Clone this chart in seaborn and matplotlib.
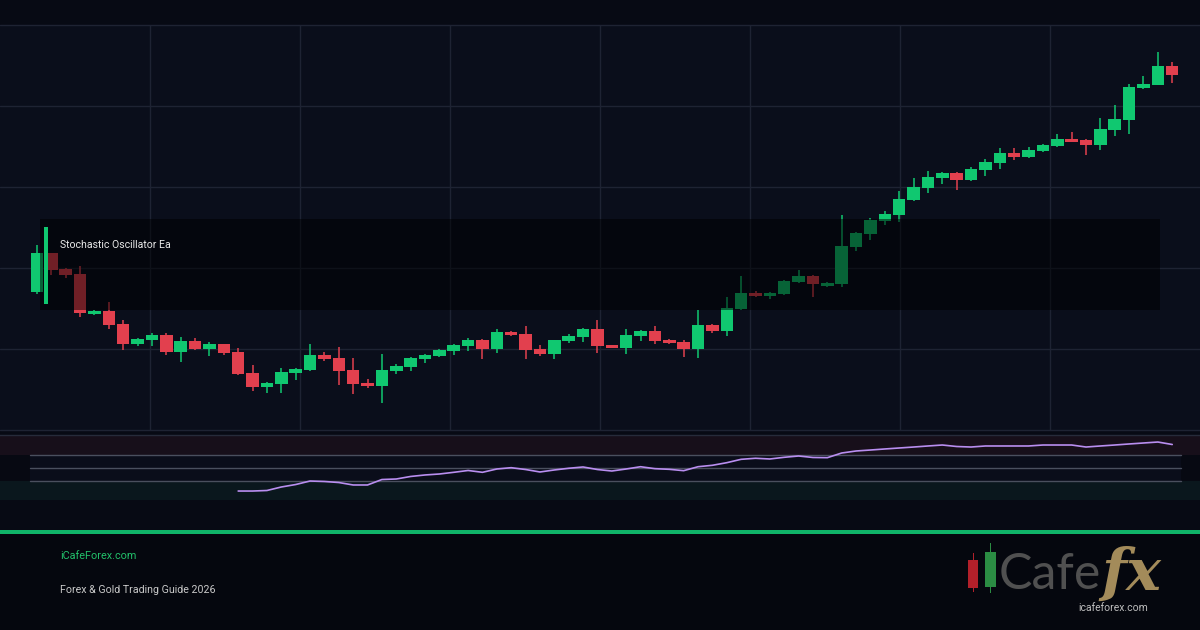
import numpy as np
import pandas as pd
import seaborn as sns
import matplotlib
matplotlib.use("Agg")
import matplotlib.pyplot as plt
from matplotlib.patches import Rectangle
import matplotlib.font_manager as fm

# ---------------- data ----------------
opens = [2138, 2177, 2161, 2156, 2116, 2119, 2106, 2086, 2090, 2095,
         2078, 2089, 2081, 2086, 2078, 2057, 2043, 2046, 2057, 2060,
         2075, 2072, 2060, 2047, 2044, 2059, 2063, 2071, 2074, 2079,
         2084, 2090, 2081, 2098, 2096, 2081, 2076, 2089, 2093, 2101,
         2085, 2082, 2094, 2099, 2090, 2088, 2081, 2105, 2099, 2121,
         2137, 2134, 2136, 2148, 2154, 2144, 2146, 2183, 2196, 2209,
         2215, 2230, 2242, 2252, 2257, 2250, 2260, 2267, 2277, 2273,
         2279, 2284, 2291, 2290, 2285, 2300, 2310, 2342, 2345, 2364]
closes = [2177, 2160, 2155, 2117, 2119, 2105, 2086, 2091, 2095, 2078,
          2089, 2081, 2086, 2077, 2056, 2043, 2047, 2058, 2061, 2075,
          2071, 2059, 2046, 2044, 2060, 2064, 2072, 2075, 2080, 2085,
          2090, 2081, 2098, 2095, 2080, 2076, 2090, 2094, 2101, 2084,
          2082, 2095, 2099, 2089, 2087, 2081, 2105, 2099, 2122, 2137,
          2134, 2137, 2149, 2154, 2146, 2147, 2184, 2197, 2210, 2216,
          2231, 2243, 2253, 2257, 2250, 2261, 2268, 2277, 2273, 2280,
          2285, 2291, 2288, 2285, 2301, 2311, 2343, 2346, 2364, 2355]
highs = [2185, 2177, 2162, 2164, 2120, 2128, 2110, 2092, 2097, 2097,
         2093, 2092, 2088, 2086, 2082, 2065, 2048, 2062, 2062, 2086,
         2078, 2083, 2072, 2051, 2076, 2066, 2073, 2076, 2081, 2086,
         2092, 2091, 2101, 2099, 2104, 2085, 2090, 2096, 2102, 2110,
         2085, 2101, 2100, 2104, 2091, 2090, 2120, 2106, 2133, 2154,
         2139, 2138, 2150, 2160, 2155, 2148, 2215, 2198, 2212, 2219,
         2239, 2252, 2259, 2258, 2258, 2263, 2271, 2282, 2282, 2283,
         2286, 2296, 2298, 2291, 2312, 2325, 2346, 2354, 2378, 2368]
lows = [2136, 2155, 2152, 2113, 2115, 2101, 2080, 2084, 2084, 2075,
        2068, 2080, 2074, 2075, 2055, 2039, 2037, 2037, 2050, 2059,
        2069, 2045, 2036, 2042, 2027, 2056, 2059, 2067, 2073, 2075,
        2079, 2071, 2077, 2094, 2071, 2074, 2071, 2087, 2088, 2077,
        2082, 2076, 2089, 2086, 2086, 2073, 2072, 2097, 2094, 2120,
        2133, 2131, 2135, 2147, 2133, 2143, 2143, 2179, 2190, 2205,
        2208, 2229, 2237, 2246, 2240, 2249, 2254, 2261, 2270, 2272,
        2278, 2283, 2288, 2275, 2280, 2294, 2296, 2341, 2345, 2347]
# oscillator starts at the 15th candle (period 14)
osc_start = 14
osc_values = [13.8, 13.8, 14.6, 20.0, 23.8, 29.2, 28.5, 26.9, 23.1, 23.1,
              31.5, 32.3, 36.2, 38.5, 40.0, 42.6, 45.4, 42.6, 47.7, 49.7,
              46.9, 43.1, 46.2, 48.8, 50.8, 46.9, 44.6, 47.7, 51.2, 48.2,
              47.2, 45.1, 51.2, 53.4, 57.4, 62.6, 64.2, 63.1, 65.7, 67.7,
              65.4, 65.1, 72.3, 75.4, 76.9, 78.5, 80.0, 81.5, 83.1, 84.6,
              82.3, 81.5, 83.1, 83.1, 83.1, 83.1, 84.6, 84.6, 84.6, 81.5,
              83.1, 84.6, 86.2, 87.7, 89.2, 85.4]
osc_levels = [70, 50, 30]
title_text = "Stochastic Oscillator Ea"
site_text = "iCafeForex.com"
guide_text = "Forex & Gold Trading Guide 2026"

# ---------------- style ----------------
sns.set_theme(style="dark")
avail = {f.name for f in fm.fontManager.ttflist}
narrow = "Liberation Sans Narrow" if "Liberation Sans Narrow" in avail else "Roboto"
plt.rcParams["font.family"] = ["Roboto", "DejaVu Sans"]

W, H = 1200, 630
BG_TOP = "#070a14"
CHART_BG = "#0a0e1b"
GRID = "#1e2333"
UP = "#10c870"
DOWN = "#e2404e"

df = pd.DataFrame({"open": opens, "close": closes, "high": highs, "low": lows})
df["idx"] = np.arange(len(df))
df["up"] = df["close"] >= df["open"]
osc = pd.DataFrame({"idx": np.arange(osc_start, osc_start + len(osc_values)),
                    "k": osc_values})

fig = plt.figure(figsize=(W / 100, H / 100), dpi=100, facecolor=BG_TOP)


def frect(x0, y0, x1, y1, color, z, alpha=1.0):
    fig.add_artist(Rectangle((x0 / W, 1 - y1 / H), (x1 - x0) / W, (y1 - y0) / H,
                             transform=fig.transFigure, facecolor=color,
                             edgecolor="none", zorder=z, alpha=alpha))


# candle spacing in pixels -> x limits so candles sit where they do in the picture
x0_px, step_px = 37.0, 14.37
xlim = (-x0_px / step_px, (W - x0_px) / step_px)

# ---------------- main price axes ----------------
ax = fig.add_axes([0, (H - 430) / H, 1, 405 / H])
ax.set_facecolor(CHART_BG)
ylim = (2000, 2405)
ax.set_xlim(*xlim)
ax.set_ylim(*ylim)
for s in ax.spines.values():
    s.set_visible(False)
ax.set_xticks([])
ax.set_yticks([])
for yv in np.linspace(ylim[0], ylim[1], 6):
    ax.axhline(yv, color=GRID, lw=1.0, zorder=1, clip_on=False)
for k in range(1, 8):
    xv = (150 * k - x0_px) / step_px
    ax.axvline(xv, color=GRID, lw=1.0, zorder=1)

colors = np.where(df["up"], UP, DOWN)
ax.vlines(df["idx"], df["low"], df["high"], colors=colors, lw=1.1, zorder=2)
body_bottom = np.minimum(df["open"], df["close"])
body_h = np.maximum(np.abs(df["close"] - df["open"]), 1.2)
ax.bar(df["idx"], body_h, bottom=body_bottom, width=0.87, color=colors,
       linewidth=0, zorder=3)

# ---------------- oscillator panel ----------------
ax2 = fig.add_axes([0, (H - 500) / H, 1, 65 / H])
ax2.set_facecolor("#070912")
ax2.set_xlim(*xlim)
ax2.set_ylim(0, 100)
for name, s in ax2.spines.items():
    s.set_visible(name == "top")
ax2.spines["top"].set_color("#262b3a")
ax2.spines["top"].set_linewidth(1.0)
ax2.set_xticks([])
ax2.set_yticks([])
ax2.axhspan(70, 100, color="#170f1a", lw=0, zorder=0)
ax2.axhspan(0, 30, color="#0a171d", lw=0, zorder=0)
ax2.add_patch(Rectangle((30 / W, 0.3), (1181 - 30) / W, 0.4, transform=ax2.transAxes,
                        facecolor="#0a0d1a", edgecolor="none", zorder=0))
for lv in osc_levels:
    ax2.axhline(lv, xmin=30 / W, xmax=1181 / W, color="#4a4f5e", lw=1.0, zorder=1)
sns.lineplot(data=osc, x="idx", y="k", ax=ax2, color="#b98ef0", lw=1.2, zorder=3,
             legend=False)
ax2.set_xlabel("")
ax2.set_ylabel("")

# ---------------- overlay box and label ----------------
frect(40, 219, 1160, 310, "#000000", 5, alpha=0.5)
frect(44, 227, 48, 304, UP, 6)
fig.text(60 / W, 1 - 245 / H, title_text, color="#e8e8e8", fontsize=7.6,
         family=[narrow, "DejaVu Sans"], va="center", ha="left", zorder=7)

# ---------------- footer ----------------
frect(0, 533, 1200, 630, "#05070e", -1)
frect(0, 530, 1200, 534, "#10b368", 6)
fig.text(60 / W, 1 - 556 / H, site_text, color="#22c06a", fontsize=7.8,
         family=[narrow, "DejaVu Sans"], va="center", ha="left")
fig.text(60 / W, 1 - 590 / H, guide_text, color="#c9c9c9", fontsize=7.7,
         family=[narrow, "DejaVu Sans"], va="center", ha="left")

# logo
frect(972.5, 553, 973.8, 592, "#b2202a", 6)
frect(968, 560, 978, 588, "#b2202a", 6)
frect(989.5, 543, 990.8, 593, "#2b8c43", 6)
frect(985, 552, 996, 587, "#2b8c43", 6)
fig.text(999 / W, 1 - 589 / H, "Cafe", color="#505050", fontsize=36,
         family=["Lato", "DejaVu Sans"], fontweight="normal", va="baseline", ha="left")
fig.text(1101 / W, 1 - 590 / H, "fx", color="#a38b5a", fontsize=42,
         family=["DejaVu Serif"], fontstyle="italic", fontweight="bold",
         va="baseline", ha="left")
fig.text(1113 / W, 1 - 608 / H, "icafeforex.com", color="#bdbdbd", fontsize=7.5,
         family=["Roboto", "DejaVu Sans"], va="center", ha="center")

fig.savefig("out.png", dpi=100, facecolor=BG_TOP)
